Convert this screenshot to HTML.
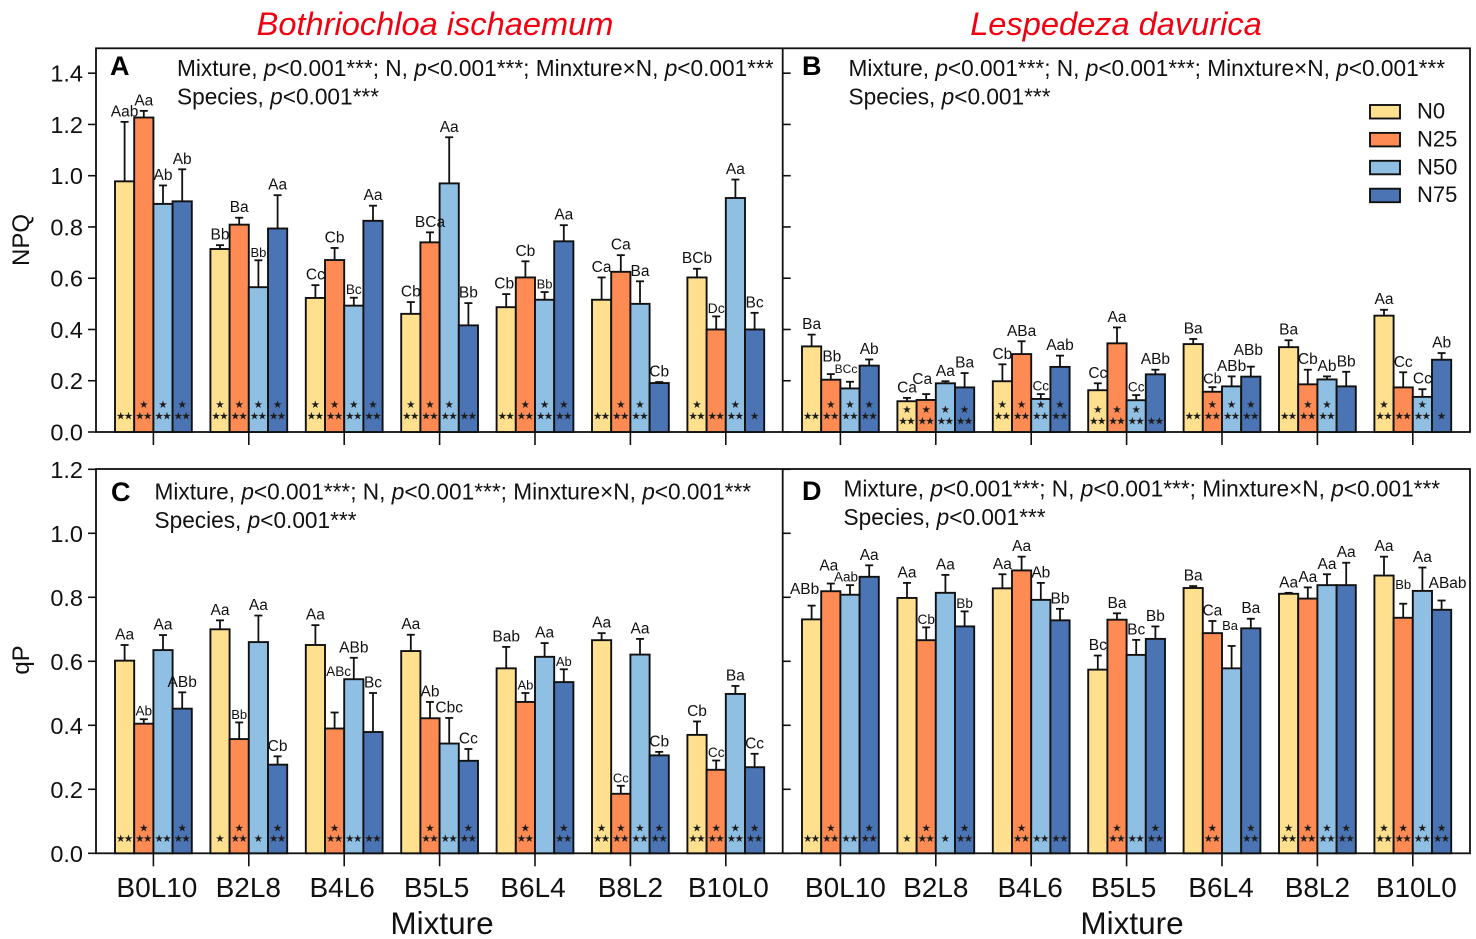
<!DOCTYPE html>
<html lang="en">
<head>
<meta charset="utf-8">
<title>NPQ and qP by mixture and nitrogen level</title>
<style>
  html, body { margin: 0; padding: 0; background: #fff; }
  body { width: 1476px; height: 939px; overflow: hidden; }
  svg { display: block; font-family: "Liberation Sans", Arial, sans-serif; fill: #111; }
  .stat { font-size: 22.65px; }
  .stat .i { font-style: italic; }
  .letter { font-size: 27px; font-weight: bold; fill: #000; }
  .species { font-size: 32.6px; font-style: italic; fill: #f00010; }
  .axis-title { font-size: 31.5px; }
  .y-title { font-size: 24px; }
  .legend-text { font-size: 22px; }
</style>
</head>
<body>
<svg id="figure" xmlns="http://www.w3.org/2000/svg" width="1476" height="939" viewBox="0 0 1476 939">
  <text class="species" x="435" y="35" text-anchor="middle">Bothriochloa ischaemum</text>
  <text class="species" x="1116" y="35" text-anchor="middle">Lespedeza davurica</text>

  <text class="y-title" transform="translate(29,240) rotate(-90)" text-anchor="middle">NPQ</text>
  <text class="y-title" transform="translate(29,660) rotate(-90)" text-anchor="middle">qP</text>
  <text class="axis-title" x="442" y="934" text-anchor="middle">Mixture</text>
  <text class="axis-title" x="1132" y="934" text-anchor="middle">Mixture</text>

  <g id="panels"></g>

  <text class="letter" x="110" y="75">A</text>
  <text class="letter" x="802" y="75">B</text>
  <text class="letter" x="111" y="501">C</text>
  <text class="letter" x="802" y="500">D</text>

  <text class="stat" x="177" y="76">Mixture, <tspan class="i">p</tspan>&lt;0.001***; N, <tspan class="i">p</tspan>&lt;0.001***; Minxture×N, <tspan class="i">p</tspan>&lt;0.001***</text>
  <text class="stat" x="177" y="104.5">Species, <tspan class="i">p</tspan>&lt;0.001***</text>
  <text class="stat" x="848.5" y="76">Mixture, <tspan class="i">p</tspan>&lt;0.001***; N, <tspan class="i">p</tspan>&lt;0.001***; Minxture×N, <tspan class="i">p</tspan>&lt;0.001***</text>
  <text class="stat" x="848.5" y="104.5">Species, <tspan class="i">p</tspan>&lt;0.001***</text>
  <text class="stat" x="154.5" y="499.5">Mixture, <tspan class="i">p</tspan>&lt;0.001***; N, <tspan class="i">p</tspan>&lt;0.001***; Minxture×N, <tspan class="i">p</tspan>&lt;0.001***</text>
  <text class="stat" x="154.5" y="528">Species, <tspan class="i">p</tspan>&lt;0.001***</text>
  <text class="stat" x="843.5" y="496.5">Mixture, <tspan class="i">p</tspan>&lt;0.001***; N, <tspan class="i">p</tspan>&lt;0.001***; Minxture×N, <tspan class="i">p</tspan>&lt;0.001***</text>
  <text class="stat" x="843.5" y="525">Species, <tspan class="i">p</tspan>&lt;0.001***</text>

  <g id="legend"></g>
</svg>

<script>
// ---------- chart data (rows = mixtures, columns = N0, N25, N50, N75) ----------
const mixtures = ['B0L10', 'B2L8', 'B4L6', 'B5L5', 'B6L4', 'B8L2', 'B10L0'];
const nLevels = ['N0', 'N25', 'N50', 'N75'];
const npqTicks = ['0.0', '0.2', '0.4', '0.6', '0.8', '1.0', '1.2', '1.4'];
const qpTicks = ['0.0', '0.2', '0.4', '0.6', '0.8', '1.0', '1.2'];

const meansA = [
  [0.978, 1.227, 0.890, 0.900],
  [0.714, 0.809, 0.565, 0.794],
  [0.523, 0.671, 0.493, 0.824],
  [0.461, 0.740, 0.970, 0.416],
  [0.487, 0.603, 0.516, 0.744],
  [0.516, 0.625, 0.500, 0.191],
  [0.603, 0.400, 0.913, 0.400]
];
const errorsA = [
  [0.232, 0.026, 0.072, 0.125],
  [0.015, 0.027, 0.105, 0.130],
  [0.050, 0.047, 0.031, 0.059],
  [0.046, 0.039, 0.180, 0.087],
  [0.051, 0.063, 0.030, 0.063],
  [0.087, 0.065, 0.088, 0.004],
  [0.034, 0.051, 0.072, 0.065]
];
const lettersA = [
  ['Aab', 'Aa', 'Ab', 'Ab'],
  ['Bb', 'Ba', 'Bb', 'Aa'],
  ['Cc', 'Cb', 'Bc', 'Aa'],
  ['Cb', 'BCa', 'Aa', 'Bb'],
  ['Cb', 'Cb', 'Bb', 'Aa'],
  ['Ca', 'Ca', 'Ba', 'Cb'],
  ['BCb', 'Dc', 'Aa', 'Bc']
];
// star codes: 0 none, 1 one star, 2 two stars, 3 one star above two stars
const starsA = [
  [2, 3, 3, 3], [3, 3, 3, 3], [3, 3, 3, 3], [3, 3, 3, 2],
  [2, 3, 3, 3], [2, 3, 3, 0], [3, 2, 3, 1]
];

const meansB = [
  [0.334, 0.204, 0.170, 0.259],
  [0.120, 0.125, 0.190, 0.174],
  [0.198, 0.304, 0.129, 0.254],
  [0.163, 0.346, 0.124, 0.225],
  [0.343, 0.157, 0.178, 0.216],
  [0.331, 0.186, 0.205, 0.178],
  [0.454, 0.174, 0.137, 0.282]
];
const errorsB = [
  [0.046, 0.022, 0.026, 0.024],
  [0.013, 0.023, 0.008, 0.056],
  [0.066, 0.050, 0.019, 0.044],
  [0.027, 0.062, 0.020, 0.018],
  [0.020, 0.018, 0.039, 0.039],
  [0.027, 0.057, 0.012, 0.057],
  [0.023, 0.059, 0.030, 0.026]
];
const lettersB = [
  ['Ba', 'Bb', 'BCc', 'Ab'],
  ['Ca', 'Ca', 'Aa', 'Ba'],
  ['Cb', 'ABa', 'Cc', 'Aab'],
  ['Cc', 'Aa', 'Cc', 'ABb'],
  ['Ba', 'Cb', 'ABb', 'ABb'],
  ['Ba', 'Cb', 'Ab', 'Bb'],
  ['Aa', 'Cc', 'Cc', 'Ab']
];
const starsB = [
  [2, 3, 3, 3], [3, 3, 3, 3], [3, 3, 3, 3], [3, 3, 3, 2],
  [2, 3, 3, 3], [2, 3, 3, 0], [3, 2, 3, 1]
];

const meansC = [
  [0.602, 0.405, 0.635, 0.452],
  [0.700, 0.357, 0.660, 0.277],
  [0.651, 0.390, 0.544, 0.379],
  [0.632, 0.422, 0.343, 0.289],
  [0.578, 0.473, 0.614, 0.535],
  [0.666, 0.186, 0.621, 0.306],
  [0.370, 0.261, 0.498, 0.269]
];
const errorsC = [
  [0.049, 0.014, 0.047, 0.051],
  [0.028, 0.052, 0.083, 0.026],
  [0.062, 0.050, 0.067, 0.122],
  [0.051, 0.051, 0.080, 0.037],
  [0.067, 0.028, 0.043, 0.040],
  [0.022, 0.025, 0.049, 0.011],
  [0.042, 0.029, 0.025, 0.042]
];
const lettersC = [
  ['Aa', 'Ab', 'Aa', 'ABb'],
  ['Aa', 'Bb', 'Aa', 'Cb'],
  ['Aa', 'ABc', 'ABb', 'Bc'],
  ['Aa', 'Ab', 'Cbc', 'Cc'],
  ['Bab', 'Ab', 'Aa', 'Ab'],
  ['Aa', 'Cc', 'Aa', 'Cb'],
  ['Cb', 'Cc', 'Ba', 'Cc']
];
const starsC = [
  [2, 3, 2, 3], [1, 3, 1, 3], [0, 3, 2, 2], [0, 3, 2, 3],
  [0, 3, 0, 3], [3, 3, 3, 3], [3, 3, 3, 3]
];

const meansD = [
  [0.731, 0.819, 0.808, 0.864],
  [0.798, 0.666, 0.814, 0.709],
  [0.828, 0.884, 0.792, 0.728],
  [0.574, 0.730, 0.620, 0.670],
  [0.829, 0.688, 0.578, 0.703],
  [0.811, 0.796, 0.838, 0.838],
  [0.868, 0.736, 0.820, 0.761]
];
const errorsD = [
  [0.043, 0.024, 0.030, 0.036],
  [0.047, 0.040, 0.056, 0.047],
  [0.044, 0.043, 0.053, 0.036],
  [0.044, 0.020, 0.047, 0.039],
  [0.006, 0.038, 0.070, 0.030],
  [0.003, 0.035, 0.034, 0.070],
  [0.059, 0.044, 0.073, 0.029]
];
const lettersD = [
  ['ABb', 'Aa', 'Aab', 'Aa'],
  ['Aa', 'Cb', 'Aa', 'Bb'],
  ['Aa', 'Aa', 'Ab', 'Bb'],
  ['Bc', 'Ba', 'Bc', 'Bb'],
  ['Ba', 'Ca', 'Ba', 'Ba'],
  ['Aa', 'Aa', 'Aa', 'Aa'],
  ['Aa', 'Bb', 'Aa', 'ABab']
];
const starsD = [
  [2, 3, 2, 3], [1, 3, 1, 3], [0, 3, 2, 2], [0, 3, 2, 3],
  [0, 3, 0, 3], [3, 3, 3, 3], [3, 3, 3, 3]
];

// ---------- layout and style (not data) ----------
const SVG_NS = 'http://www.w3.org/2000/svg';
const fills = { N0: '#FEE08F', N25: '#FD8B53', N50: '#90BFE4', N75: '#4A74B4' };
const BAR_W = 19.2, GROUP_STEP = 95.4, LEFT_X = 115, RIGHT_X = 802;
const AXIS_LEFT = 96, AXIS_MID = 782.7, AXIS_RIGHT = 1470;
const TOP_ROW = { top: 48.3, base: 432, scale: 256.3, ticks: npqTicks, starA: 27, starB: 15.5 };
const BOT_ROW = { top: 469, base: 853.3, scale: 320, ticks: qpTicks, starA: 25, starB: 14.5 };

const panels = [
  { key: 'a', x: LEFT_X,  row: TOP_ROW, means: meansA, errors: errorsA, letters: lettersA, stars: starsA },
  { key: 'b', x: RIGHT_X, row: TOP_ROW, means: meansB, errors: errorsB, letters: lettersB, stars: starsB },
  { key: 'c', x: LEFT_X,  row: BOT_ROW, means: meansC, errors: errorsC, letters: lettersC, stars: starsC },
  { key: 'd', x: RIGHT_X, row: BOT_ROW, means: meansD, errors: errorsD, letters: lettersD, stars: starsD }
];

// Significance letters squeezed to a smaller size: panel-group-bar -> font size
const compactLetters = {
  'a-1-2': 13, 'a-2-2': 13.6, 'a-4-2': 13, 'a-6-1': 14,
  'b-0-2': 12, 'b-2-2': 13.6, 'b-3-2': 13.6, 'b-4-1': 14.5,
  'c-0-1': 13.6, 'c-1-1': 13, 'c-2-1': 13.6, 'c-4-1': 13, 'c-4-3': 13, 'c-5-1': 13, 'c-6-1': 13.6,
  'd-0-2': 13.5, 'd-1-1': 13.6, 'd-1-3': 13.6, 'd-4-2': 13, 'd-6-1': 13
};
// Hand placement of letters that were moved clear of neighbours in the figure
const letterNudges = {
  'a-4-0': [-2, 0],
  'b-0-1': [1, -7], 'b-0-2': [-4, -5.5], 'b-1-1': [-4, -4.5], 'b-4-3': [-2.5, -6],
  'c-2-1': [4, -33],
  'd-0-0': [-7, -6], 'd-0-1': [-2, -7.5], 'd-0-2': [-4, 0], 'd-4-2': [-1.5, -12.5],
  'd-6-1': [0, -11], 'd-6-3': [6, -7]
};
const tickLabelNudgeLeft = [3.5, -0.5, -2, -3, -2, 0, 2.5];
const tickLabelNudgeRight = [5, 0, -1, -3, -1, 0, 3.5];
const loweredStarGroups = { 'b-1': 5, 'b-3': 5 };

function svgEl(tag, attrs, parent, text) {
  const node = document.createElementNS(SVG_NS, tag);
  for (const k in attrs) node.setAttribute(k, attrs[k]);
  if (text !== undefined) node.textContent = text;
  parent.appendChild(node);
  return node;
}

function yScale(row, value) { return row.base - value * row.scale; }
function barLeft(panel, group, bar) { return panel.x + GROUP_STEP * group + BAR_W * bar; }
function groupCenter(panel, group) { return panel.x + GROUP_STEP * group + BAR_W * 2; }

const root = document.getElementById('panels');

// ---------- frames and y axes ----------
[TOP_ROW, BOT_ROW].forEach(function (row, r) {
  const frame = svgEl('rect', {
    x: AXIS_LEFT, y: row.top, width: AXIS_RIGHT - AXIS_LEFT, height: row.base - row.top,
    fill: 'none', stroke: '#111', 'stroke-width': 1.8
  }, root);
  
  

  const divider = svgEl('line', {
    x1: AXIS_MID, x2: AXIS_MID, y1: row.top, y2: row.base, stroke: '#111', 'stroke-width': 1.8
  }, root);
  
  

  row.ticks.forEach(function (label) {
    const y = yScale(row, parseFloat(label));
    const tick = svgEl('line', {
      x1: AXIS_LEFT - 8, x2: AXIS_LEFT, y1: y, y2: y, stroke: '#111', 'stroke-width': 1.6
    }, root);
    
    

    const innerTick = svgEl('line', {
      x1: AXIS_MID, x2: AXIS_MID + 8, y1: y, y2: y, stroke: '#111', 'stroke-width': 1.6
    }, root);
    
    

    const tickText = svgEl('text', {
      x: 83, y: y + 8.5, 'text-anchor': 'end', 'font-size': 23.5
    }, root, label);
    
    
  });
});

// ---------- panels ----------
panels.forEach(function (panel) {
  const row = panel.row;
  const g = svgEl('g', {}, root);
  
  

  panel.means.forEach(function (rowValues, groupIndex) {
    rowValues.forEach(function (mean, barIndex) {
      const id = panel.key + '-' + groupIndex + '-' + barIndex;
      const level = nLevels[barIndex];
      const cx = barLeft(panel, groupIndex, barIndex) + BAR_W / 2;
      const errTopY = yScale(row, mean + panel.errors[groupIndex][barIndex]);
      const topY = yScale(row, mean);

      const stem = svgEl('line', {
        x1: cx, x2: cx, y1: topY, y2: errTopY, stroke: '#111', 'stroke-width': 1.8
      }, g);
      
      

      const cap = svgEl('line', {
        x1: cx - 4, x2: cx + 4, y1: errTopY, y2: errTopY, stroke: '#111', 'stroke-width': 1.8
      }, g);
      
      

      const bar = svgEl('rect', {
        x: barLeft(panel, groupIndex, barIndex), y: topY,
        width: BAR_W, height: row.base - topY,
        fill: fills[level], stroke: '#111', 'stroke-width': 1.9
      }, g);
      
      
    });
  });

  panel.letters.forEach(function (rowLetters, groupIndex) {
    rowLetters.forEach(function (letter, barIndex) {
      const id = panel.key + '-' + groupIndex + '-' + barIndex;
      const mean = panel.means[groupIndex][barIndex];
      const cx = barLeft(panel, groupIndex, barIndex) + BAR_W / 2;
      const errTopY = yScale(row, mean + panel.errors[groupIndex][barIndex]);
      const size = compactLetters[id] || 15.5;
      const gap = compactLetters[id] ? 3.5 : 5.5;
      const nudge = letterNudges[id] || [0, 0];

      const label = svgEl('text', {
        x: cx + nudge[0], y: errTopY - gap + nudge[1],
        'text-anchor': 'middle', 'font-size': size
      }, g, letter);
      
      
    });
  });

  panel.stars.forEach(function (rowStars, groupIndex) {
    const shift = loweredStarGroups[panel.key + '-' + groupIndex] || 0;
    rowStars.forEach(function (code, barIndex) {
      const id = panel.key + '-' + groupIndex + '-' + barIndex;
      const cx = barLeft(panel, groupIndex, barIndex) + BAR_W / 2;
      const starStyle = { 'text-anchor': 'middle', 'font-size': 10.5, 'letter-spacing': '-1.6px', 'font-family': '"DejaVu Sans", sans-serif', fill: '#1c1c1c' };
      if (code === 3) {
        const upper = svgEl('text', Object.assign({ x: cx - 0.8, y: row.base - row.starA + 3.2 + shift }, starStyle), g, '★');
        
        
      }
      if (code > 0) {
        const lowerText = code === 1 ? '★' : '★★';
        const lower = svgEl('text', Object.assign({ x: cx - 0.8, y: row.base - row.starB + 3.2 + shift }, starStyle), g, lowerText);
        
        
      }
    });
  });

  panel.means.forEach(function (_, groupIndex) {
    const cx = groupCenter(panel, groupIndex);
    const tick = svgEl('line', {
      x1: cx, x2: cx, y1: row.base, y2: row.base + 13, stroke: '#111', 'stroke-width': 1.6
    }, g);
    
    
  });
});

// ---------- x tick labels (bottom row only) ----------
[panels[2], panels[3]].forEach(function (panel) {
  const nudges = panel.x === LEFT_X ? tickLabelNudgeLeft : tickLabelNudgeRight;
  mixtures.forEach(function (name, groupIndex) {
    const label = svgEl('text', {
      x: groupCenter(panel, groupIndex) + nudges[groupIndex], y: 897,
      'text-anchor': 'middle', 'font-size': 28
    }, root, name);
    
    
  });
});

// ---------- legend ----------
const legend = document.getElementById('legend');
nLevels.forEach(function (level, i) {
  const swatchY = 105 + i * 27.9;
  const swatch = svgEl('rect', {
    x: 1370, y: swatchY, width: 30, height: 13.5,
    fill: fills[level], stroke: '#111', 'stroke-width': 1.9
  }, legend);
  
  

  const text = svgEl('text', {
    class: 'legend-text', x: 1417, y: swatchY + 13.5
  }, legend, level);
  
  
});
</script>
</body>
</html>
